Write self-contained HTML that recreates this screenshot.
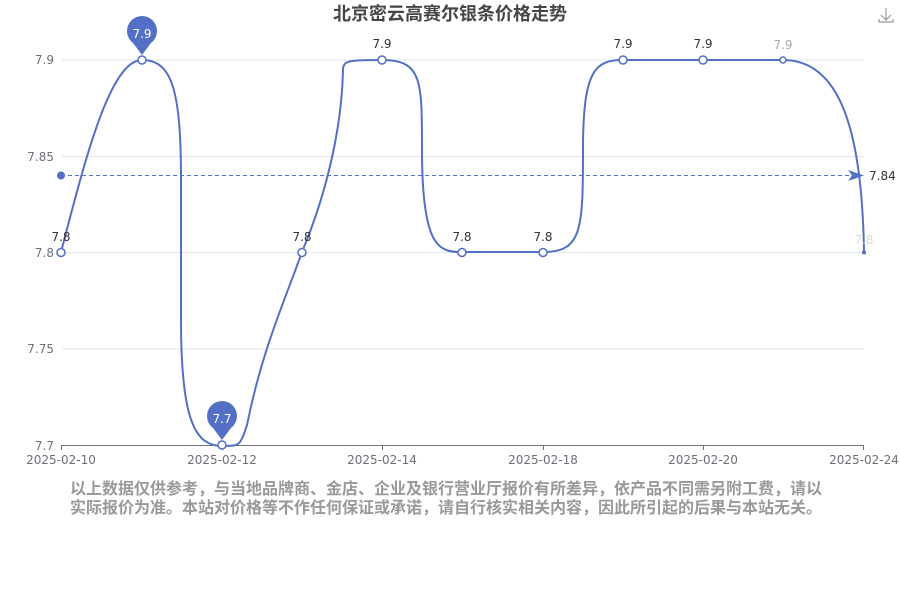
<!DOCTYPE html>
<html><head><meta charset="utf-8"><style>
html,body{margin:0;padding:0;background:#fff;}
svg{display:block;font-family:"DejaVu Sans","Noto Sans CJK SC",sans-serif;}
</style></head><body>
<svg width="900" height="600" viewBox="0 0 900 600" xmlns="http://www.w3.org/2000/svg">
<text x="450" y="20" text-anchor="middle" font-size="18" font-weight="bold" fill="#464646" font-family="Liberation Sans, Noto Sans CJK SC, sans-serif">北京密云高赛尔银条价格走势</text>
<g stroke="#999" fill="none" stroke-width="1.2"><path d="M886 8v12M881 15l5 5 5-5M879 19v3h14v-3"/></g>
<g stroke="#e0e6f1" stroke-width="1">
<line x1="62" y1="60" x2="864" y2="60"/><line x1="62" y1="156.5" x2="864" y2="156.5"/>
<line x1="62" y1="252.5" x2="864" y2="252.5"/><line x1="62" y1="349" x2="864" y2="349"/>
</g>
<line x1="61" y1="445.5" x2="864" y2="445.5" stroke="#6e7079"/>
<g stroke="#6e7079"><line x1="61.5" y1="445" x2="61.5" y2="450"/><line x1="222.5" y1="445" x2="222.5" y2="450"/><line x1="382.5" y1="445" x2="382.5" y2="450"/><line x1="543.5" y1="445" x2="543.5" y2="450"/><line x1="703.5" y1="445" x2="703.5" y2="450"/><line x1="863.5" y1="445" x2="863.5" y2="450"/></g>
<g font-size="12" fill="#6e7079" text-anchor="end">
<text x="54" y="64">7.9</text><text x="54" y="161">7.85</text><text x="54" y="257">7.8</text><text x="54" y="353">7.75</text><text x="54" y="450">7.7</text>
</g>
<g font-size="12" fill="#6e7079" text-anchor="middle">
<text x="61" y="464">2025-02-10</text><text x="222" y="464">2025-02-12</text><text x="382" y="464">2025-02-14</text><text x="543" y="464">2025-02-18</text><text x="703" y="464">2025-02-20</text><text x="864" y="464">2025-02-24</text>
</g>
<line x1="61" y1="175.5" x2="856" y2="175.5" stroke="#5470c6" stroke-dasharray="4,3"/>
<circle cx="61" cy="175.5" r="4" fill="#5470c6"/>
<path d="M864 175.5 L848 170 L852 175.5 L848 181 Z" fill="#5470c6"/>
<text x="869" y="180" font-size="12" fill="#333">7.84</text>
<path d="M61 252 C85 160 110 60 142 60 C172 60 181 90 181 180 L181 320 C181 420 195 446 222 446 C240 446 240 446 247 425 C262 350 285 300 302 252 C330 185 342 120 343 70 C343 60 350 60 382 60 C422 60 422 80 422 150 C422 250 440 252 462 252 L543 252 C582 252 583 230 583 150 C583 70 595 60 623 60 L783 60 C840 60 862 130 864 252" fill="none" stroke="#5470c6" stroke-width="2"/>
<g fill="#fff" stroke="#5470c6" stroke-width="1.5">
<circle cx="61" cy="252.5" r="4"/><circle cx="142" cy="60" r="4"/><circle cx="222" cy="445" r="4"/><circle cx="302" cy="252.5" r="4"/><circle cx="382" cy="60" r="4"/><circle cx="462" cy="252.5" r="4"/><circle cx="543" cy="252.5" r="4"/><circle cx="623" cy="60" r="4"/><circle cx="703" cy="60" r="4"/><circle cx="783" cy="60" r="3"/>
</g>
<circle cx="864" cy="252.5" r="2" fill="#5470c6"/>
<g font-size="12" fill="#333" text-anchor="middle">
<text x="61" y="241">7.8</text><text x="302" y="241">7.8</text><text x="382" y="48">7.9</text><text x="462" y="241">7.8</text><text x="543" y="241">7.8</text><text x="623" y="48">7.9</text><text x="703" y="48">7.9</text>
<text x="783" y="49" fill="#aaa">7.9</text><text x="864" y="244" fill="#ddd">7.8</text>
</g>
<path d="M142 55 L133 43 A15 15 0 1 1 151 43 Z" fill="#5470c6"/>
<text x="142" y="38" font-size="12" fill="#fff" text-anchor="middle">7.9</text>
<path d="M222 440 L213 428 A15 15 0 1 1 231 428 Z" fill="#5470c6"/>
<text x="222" y="423" font-size="12" fill="#fff" text-anchor="middle">7.7</text>
<g font-size="16" fill="#999" font-weight="bold" font-family="Liberation Sans, Noto Sans CJK SC, sans-serif">
<text x="70" y="494">以上数据仅供参考，与当地品牌商、金店、企业及银行营业厅报价有所差异，依产品不同需另附工费，请以</text>
<text x="70" y="513">实际报价为准。本站对价格等不作任何保证或承诺，请自行核实相关内容，因此所引起的后果与本站无关。</text>
</g>
</svg>
</body></html>
